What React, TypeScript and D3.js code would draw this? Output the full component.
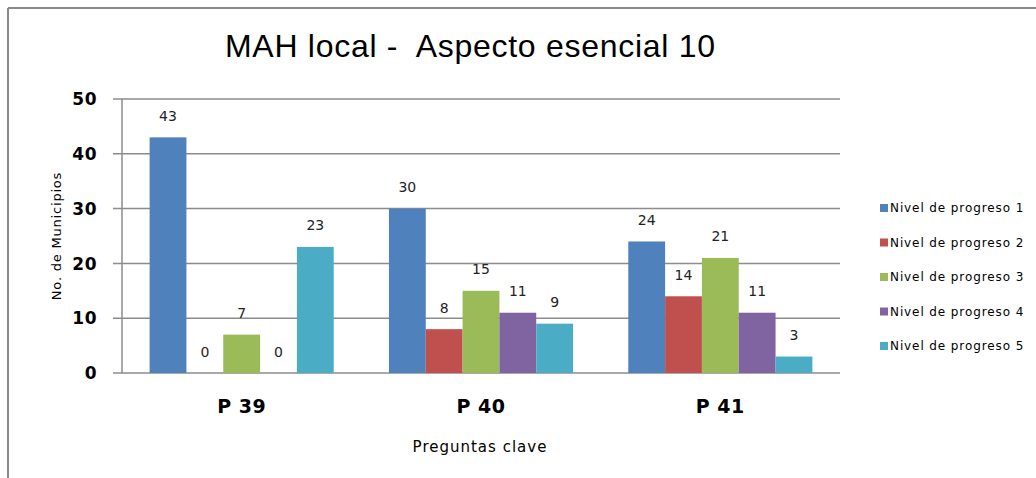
import React from "react";
import * as d3 from "d3";

const categories = ["P 39", "P 40", "P 41"];
const seriesNames = [
  "Nivel de progreso 1",
  "Nivel de progreso 2",
  "Nivel de progreso 3",
  "Nivel de progreso 4",
  "Nivel de progreso 5",
];
const seriesValues = [
  [43, 30, 24],
  [0, 8, 14],
  [7, 15, 21],
  [0, 11, 11],
  [23, 9, 3],
];
const seriesColors = ["#4F81BD", "#C0504D", "#9BBB59", "#8064A2", "#4BACC6"];
const yTicks = [0, 10, 20, 30, 40, 50];

const W = 1036;
const H = 478;
const plot = { left: 122, right: 840, top: 99, bottom: 373 };
const FONT = "'DejaVu Sans', 'Noto Sans', sans-serif";

export default function App() {
  const x0 = d3
    .scaleBand<string>()
    .domain(categories)
    .range([plot.left, plot.right])
    .paddingInner(0)
    .paddingOuter(0);
  const barW = x0.bandwidth() / (seriesNames.length + 1.5);
  const offset = (x0.bandwidth() - barW * seriesNames.length) / 2;
  const y = d3.scaleLinear().domain([0, 50]).range([plot.bottom, plot.top]);

  const legendY0 = 208;
  const legendStep = 34.5;

  return (
    <svg
      width={W}
      height={H}
      style={{ position: "absolute", left: 0, top: 0, background: "#fff" }}
    >
      <rect x={0} y={0} width={W} height={H} fill="#fff" />
      <line x1={8} y1={8} x2={W} y2={8} stroke="#8a8a8a" strokeWidth={2} />
      <line x1={8} y1={8} x2={8} y2={H} stroke="#8a8a8a" strokeWidth={2} />

      <text
        x={225}
        y={57}
        textLength={490}
        lengthAdjust="spacing"
        fontFamily="'Liberation Sans', Arial, sans-serif"
        fontSize={32}
        fill="#000"
        style={{ whiteSpace: "pre" }}
      >
        {"MAH local -  Aspecto esencial 10"}
      </text>

      {yTicks.map((t) => (
        <g key={t}>
          <line
            x1={plot.left - 9}
            x2={plot.right}
            y1={y(t)}
            y2={y(t)}
            stroke="#8c8c8c"
            strokeWidth={1.5}
          />
          <text
            x={97}
            y={y(t)}
            dy="0.36em"
            textAnchor="end"
            fontFamily={FONT}
            fontWeight="bold"
            fontSize={17}
            letterSpacing={0.5}
            fill="#000"
          >
            {t}
          </text>
        </g>
      ))}
      <line
        x1={plot.left}
        x2={plot.left}
        y1={plot.top}
        y2={plot.bottom}
        stroke="#8c8c8c"
        strokeWidth={1.5}
      />

      {categories.map((c, ci) => (
        <g key={c}>
          {seriesNames.map((s, si) => {
            const v = seriesValues[si][ci];
            const bx = (x0(c) as number) + offset + si * barW;
            return (
              <g key={s}>
                {v > 0 && (
                  <rect
                    x={bx}
                    y={y(v)}
                    width={barW}
                    height={y(0) - y(v)}
                    fill={seriesColors[si]}
                  />
                )}
                <text
                  x={bx + barW / 2}
                  y={y(v) - 16.5}
                  textAnchor="middle"
                  fontFamily={FONT}
                  fontSize={14}
                  fill="#222"
                >
                  {v}
                </text>
              </g>
            );
          })}
          <text
            x={(x0(c) as number) + x0.bandwidth() / 2}
            y={413}
            textAnchor="middle"
            fontFamily={FONT}
            fontWeight="bold"
            fontSize={19}
            letterSpacing={0.5}
            fill="#000"
          >
            {c}
          </text>
        </g>
      ))}

      <text
        transform={`translate(61, 236) rotate(-90)`}
        textAnchor="middle"
        fontFamily={FONT}
        fontSize={13}
        letterSpacing={0.8}
        fill="#000"
      >
        No. de Municipios
      </text>
      <text
        x={480}
        y={452}
        textAnchor="middle"
        fontFamily={FONT}
        fontSize={15}
        letterSpacing={1}
        fill="#000"
      >
        Preguntas clave
      </text>

      {seriesNames.map((s, i) => (
        <g key={s} transform={`translate(880, ${legendY0 + i * legendStep})`}>
          <rect x={0} y={-4} width={8} height={8} fill={seriesColors[i]} />
          <text
            x={10}
            y={0}
            dy="0.36em"
            fontFamily={FONT}
            fontSize={12}
            letterSpacing={0.9}
            fill="#000"
          >
            {s}
          </text>
        </g>
      ))}
    </svg>
  );
}
